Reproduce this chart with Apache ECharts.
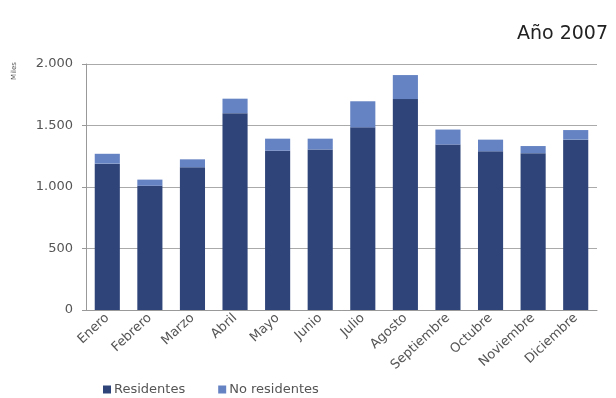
<!DOCTYPE html>
<html>
<head>
<meta charset="utf-8">
<script src="https://cdn.jsdelivr.net/npm/echarts@6/dist/echarts.min.js"></script>
<style>
  html, body { margin: 0; padding: 0; background: #fff; }
  #chart { width: 616px; height: 398px; }
</style>
</head>
<body>
<div id="chart"></div>
<script>
// Monthly visitors (thousands), 2007
const months = ['Enero', 'Febrero', 'Marzo', 'Abril', 'Mayo', 'Junio', 'Julio',
  'Agosto', 'Septiembre', 'Octubre', 'Noviembre', 'Diciembre'];
const residentes = [1190, 1010, 1160, 1600, 1295, 1305, 1485, 1715, 1345, 1290, 1275, 1385];
const noResidentes = [80, 50, 65, 118, 98, 88, 212, 195, 122, 95, 58, 78];
const yTicks = [0, 500, 1000, 1500, 2000];

const fmt = v => v.toString().replace(/\B(?=(\d{3})+(?!\d))/g, '.');

const chart = echarts.init(document.getElementById('chart'), null, { renderer: 'canvas' });
chart.setOption({
  animation: false,
  textStyle: { fontFamily: 'DejaVu Sans' },
  title: {
    text: 'Año 2007',
    right: 3,
    top: 20,
    textStyle: { fontFamily: 'DejaVu Sans', fontSize: 19, fontWeight: 'normal', color: '#222' }
  },
  graphic: [{
    type: 'text',
    left: 11,
    top: 62,
    rotation: Math.PI / 2,
    style: { text: 'Miles', fontSize: 7, fill: '#555', fontFamily: 'DejaVu Sans' }
  }],
  legend: {
    left: 103,
    top: 383,
    padding: 0,
    icon: 'rect',
    itemWidth: 8,
    itemHeight: 8,
    itemGap: 33,
    textStyle: { fontSize: 13, color: '#555', padding: [0, 0, 0, -2] },
    data: ['Residentes', 'No residentes']
  },
  grid: { left: 86, right: 19, top: 64, bottom: 88, containLabel: false },
  xAxis: {
    type: 'category',
    data: months,
    axisLine: { lineStyle: { color: '#999' } },
    axisTick: { show: false },
    axisLabel: { rotate: 43, fontSize: 13, color: '#555', margin: 6, interval: 0 }
  },
  yAxis: {
    type: 'value',
    min: yTicks[0],
    max: yTicks[yTicks.length - 1],
    interval: 500,
    axisLine: { show: true, lineStyle: { color: '#999' } },
    axisTick: { show: true, length: 4, lineStyle: { color: '#999' } },
    splitLine: { lineStyle: { color: '#aaa' } },
    axisLabel: { fontSize: 13, color: '#555', margin: 13, formatter: v => fmt(v) }
  },
  series: [{
    name: 'Residentes',
    type: 'bar',
    stack: 'total',
    barCategoryGap: '41%',
    itemStyle: { color: '#2f4579' },
    data: residentes
  }, {
    name: 'No residentes',
    type: 'bar',
    stack: 'total',
    itemStyle: { color: '#6583c3' },
    data: noResidentes
  }]
});
</script>
</body>
</html>
